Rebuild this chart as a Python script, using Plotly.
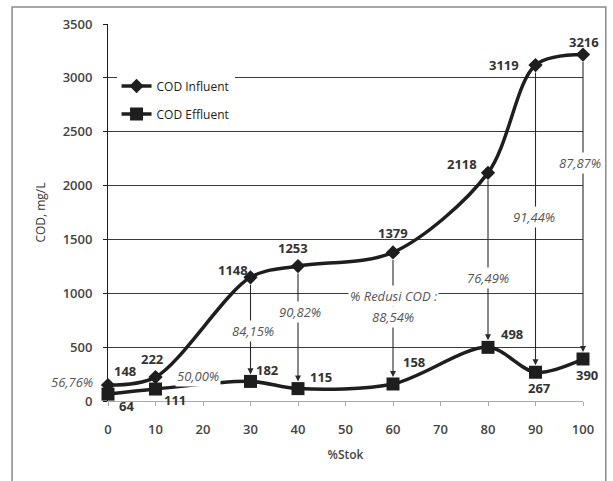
import plotly.graph_objects as go

# Data: COD before and after treatment for each stock percentage
stok = [0, 10, 30, 40, 60, 80, 90, 100]
cod_influent = [148, 222, 1148, 1253, 1379, 2118, 3119, 3216]
cod_effluent = [64, 111, 182, 115, 158, 498, 267, 390]
x_ticks = [0, 10, 20, 30, 40, 50, 60, 70, 80, 90, 100]
y_ticks = [0, 500, 1000, 1500, 2000, 2500, 3000, 3500]

# Reduction (%) from influent to effluent, written with a decimal comma
reduksi = [(i - e) / i * 100 for i, e in zip(cod_influent, cod_effluent)]
reduksi_txt = [f"{r:.2f}%".replace(".", ",") for r in reduksi]

# Label offsets in pixels (xshift, yshift)
inf_shift = [(17, 14), (-3, 18), (-18, 7), (-5, 18), (0, 19), (-26, 9), (-32, 0), (1, 13)]
eff_shift = [(18, -12), (19, -11), (17, 11), (23, 12), (21, 22), (24, 13), (4, -16), (4, -16)]
pct_shift = [(-36, 12), (42, 13), (2, 50), (2, 77), (0, 67), (0, 69), (-2, 155), (-3, 196)]
arrow_from = 2  # first point with an arrow (30 %Stok)

INK = "#1e1e1e"
GRID = "#3a3a3a"
VAL_FONT = dict(family="Open Sans", size=13, color="#333333", weight=700)
PCT_FONT = dict(family="Open Sans", size=13, color="#555555", style="italic")

fig = go.Figure()

fig.add_trace(go.Scatter(
    x=stok, y=cod_influent, name="COD Influent", mode="lines+markers",
    line=dict(color=INK, width=3.5, shape="spline", smoothing=0.9),
    marker=dict(symbol="diamond", size=11, color=INK),
    cliponaxis=False, legendgroup="a",
))
fig.add_trace(go.Scatter(
    x=stok, y=cod_effluent, name="COD Effluent", mode="lines+markers",
    line=dict(color=INK, width=3.5, shape="spline", smoothing=0.9),
    marker=dict(symbol="square", size=13, color=INK),
    cliponaxis=False, legendgroup="b",
))

annotations = []
# Arrows from influent down to effluent
for k in range(arrow_from, len(stok)):
    annotations.append(dict(
        x=stok[k], y=cod_effluent[k], ax=stok[k], ay=cod_influent[k],
        xref="x", yref="y", axref="x", ayref="y",
        showarrow=True, arrowhead=2, arrowsize=1.1, arrowwidth=1.1,
        arrowcolor="#2a2a2a", standoff=7, startstandoff=6, text="",
    ))
# Value labels
for k in range(len(stok)):
    dx, dy = inf_shift[k]
    annotations.append(dict(x=stok[k], y=cod_influent[k], xref="x", yref="y",
                            text=str(cod_influent[k]), showarrow=False,
                            xshift=dx, yshift=dy, font=VAL_FONT))
    dx, dy = eff_shift[k]
    annotations.append(dict(x=stok[k], y=cod_effluent[k], xref="x", yref="y",
                            text=str(cod_effluent[k]), showarrow=False,
                            xshift=dx, yshift=dy, font=VAL_FONT))
# Reduction percentages
for k in range(len(stok)):
    dx, dy = pct_shift[k]
    annotations.append(dict(x=stok[k], y=cod_effluent[k], xref="x", yref="y",
                            text=reduksi_txt[k], showarrow=False,
                            xshift=dx, yshift=dy, font=PCT_FONT,
                            bgcolor="white", borderpad=1))
k60 = stok.index(60)
annotations.append(dict(x=stok[k60], y=cod_effluent[k60], xref="x", yref="y",
                        text="% Redusi COD :", showarrow=False,
                        xshift=0, yshift=88, font=PCT_FONT,
                        bgcolor="white", borderpad=1))

fig.update_layout(
    width=613, height=481,
    margin=dict(l=108, r=30, t=24, b=80),
    paper_bgcolor="white", plot_bgcolor="white",
    font=dict(family="Open Sans", color="#333333"),
    annotations=annotations,
    showlegend=True,
    legend=dict(
        x=0.018, y=0.874, xanchor="left", yanchor="top",
        bgcolor="white", tracegroupgap=9,
        font=dict(family="Open Sans", size=12, color="#222222"),
    ),
    shapes=[dict(type="rect", xref="paper", yref="paper",
                 x0=-0.202, x1=1.048, y0=-0.26, y1=1.045,
                 line=dict(color="#8a8a8a", width=1.5), layer="below")],
)

fig.update_xaxes(
    range=[0, 100], tickvals=x_ticks, showgrid=False, zeroline=False,
    showline=True, linecolor="#aaaaaa", linewidth=1,
    ticks="outside", ticklen=4, tickcolor="#aaaaaa", ticklabelstandoff=12,
    tickfont=dict(family="Open Sans", size=13, color="#444444", weight=600),
    title=dict(text="%Stok", standoff=14,
               font=dict(family="Open Sans", size=12, color="#444444", weight=600)),
)
fig.update_yaxes(
    range=[0, 3500], tickvals=y_ticks, showgrid=True, gridcolor=GRID, gridwidth=1,
    zeroline=False, showline=True, linecolor=INK, linewidth=1,
    ticks="outside", ticklen=4, tickcolor=INK, ticklabelstandoff=8,
    tickfont=dict(family="Open Sans", size=13, color="#444444", weight=600),
    title=dict(text="COD, mg/L", standoff=14,
               font=dict(family="Open Sans", size=12, color="#333333")),
)

fig.write_html("out.html")
